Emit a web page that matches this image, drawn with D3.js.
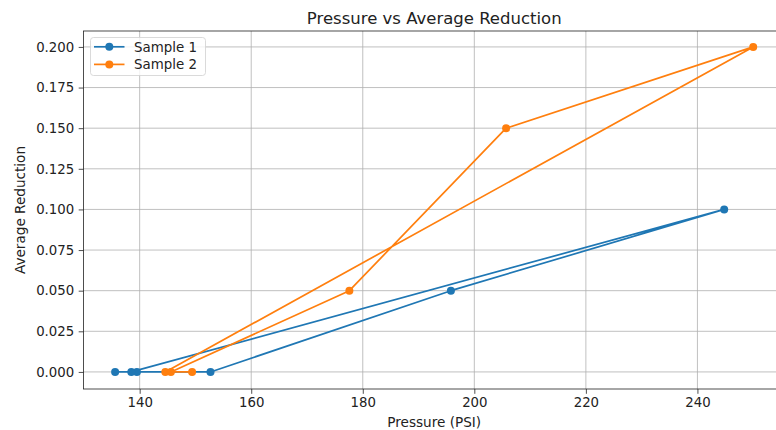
<!DOCTYPE html>
<html><head><meta charset="utf-8">
<script src="https://cdn.jsdelivr.net/npm/d3@7"></script>
<style>body{margin:0;background:#fff;} svg{display:block;font-family:"DejaVu Sans",sans-serif;}</style>
</head><body><svg id="c" width="776" height="430"></svg>
<script>
const sample1X = [135.6, 139.5, 152.7, 195.8, 244.8, 138.5];
const sample1Y = [0.0, 0.0, 0.0, 0.05, 0.10, 0.0];
const sample2X = [149.4, 144.6, 250.0, 205.7, 177.6, 145.6];
const sample2Y = [0.0, 0.0, 0.20, 0.15, 0.05, 0.0];
const seriesNames = ["Sample 1", "Sample 2"];
const colors = ["#1f77b4", "#ff7f0e"];
const xTicks = [140, 160, 180, 200, 220, 240];
const yTicks = [0, 0.025, 0.05, 0.075, 0.1, 0.125, 0.15, 0.175, 0.2];

const svg = d3.select("#c");
const L = 83.5, T = 31, B = 389, R = 785;
const x = d3.scaleLinear().domain([129.93, 255.7]).range([L, R]);
const y = d3.scaleLinear().domain([-0.0105, 0.2098]).range([B, T]);

// grid
const g = svg.append("g");
g.selectAll(".gx").data(xTicks).join("line")
  .attr("x1", d => x(d)).attr("x2", d => x(d)).attr("y1", T).attr("y2", B)
  .attr("stroke", "#b0b0b0").attr("stroke-width", 0.8);
g.selectAll(".gy").data(yTicks).join("line")
  .attr("x1", L).attr("x2", R).attr("y1", d => y(d)).attr("y2", d => y(d))
  .attr("stroke", "#b0b0b0").attr("stroke-width", 0.8);

const series = [
  sample1X.map((v, i) => [v, sample1Y[i]]),
  sample2X.map((v, i) => [v, sample2Y[i]])
];
const line = d3.line().x(d => x(d[0])).y(d => y(d[1]));
series.forEach((s, k) => {
  svg.append("path").attr("d", line(s)).attr("fill", "none")
    .attr("stroke", colors[k]).attr("stroke-width", 1.7).attr("stroke-linejoin", "round");
  svg.selectAll(".m" + k).data(s).join("circle")
    .attr("cx", d => x(d[0])).attr("cy", d => y(d[1])).attr("r", 4)
    .attr("fill", colors[k]);
});

// axes
const xa = svg.append("g").attr("transform", `translate(0,${B})`)
  .call(d3.axisBottom(x).tickValues(xTicks).tickSize(4.8).tickPadding(4).tickFormat(d3.format("d")));
const ya = svg.append("g").attr("transform", `translate(${L},0)`)
  .call(d3.axisLeft(y).tickValues(yTicks).tickSize(4.8).tickPadding(4.5).tickFormat(d3.format(".3f")));
[xa, ya].forEach(a => {
  a.select(".domain").remove();
  a.selectAll("text").attr("font-size", 13.3).attr("fill", "#222").attr("font-family", "DejaVu Sans");
  a.selectAll("line").attr("stroke", "#222").attr("stroke-width", 0.8);
});
// spines
svg.append("rect").attr("x", L).attr("y", T).attr("width", R - L).attr("height", B - T)
  .attr("fill", "none").attr("stroke", "#222").attr("stroke-width", 0.8);

// titles
svg.append("text").attr("x", (L + R) / 2).attr("y", 24).attr("text-anchor", "middle")
  .attr("font-size", 16.5).attr("fill", "#222").text("Pressure vs Average Reduction");
svg.append("text").attr("x", (L + R) / 2).attr("y", 426.5).attr("text-anchor", "middle")
  .attr("font-size", 13.6).attr("fill", "#222").text("Pressure (PSI)");
svg.append("text").attr("transform", `translate(25,${(T + B) / 2}) rotate(-90)`).attr("text-anchor", "middle")
  .attr("font-size", 13.6).attr("fill", "#222").text("Average Reduction");

// legend
const lg = svg.append("g");
lg.append("rect").attr("x", 90.5).attr("y", 37.5).attr("width", 115).attr("height", 38).attr("rx", 3)
  .attr("fill", "#fff").attr("fill-opacity", 0.8).attr("stroke", "#d0d0d0").attr("stroke-width", 0.8);
seriesNames.forEach((n, k) => {
  const yy = 46.8 + k * 17.6;
  lg.append("line").attr("x1", 94).attr("x2", 124.5).attr("y1", yy).attr("y2", yy)
    .attr("stroke", colors[k]).attr("stroke-width", 1.7);
  lg.append("circle").attr("cx", 109.3).attr("cy", yy).attr("r", 4).attr("fill", colors[k]);
  lg.append("text").attr("x", 134).attr("y", yy + 4.8).attr("font-size", 13.4).attr("fill", "#222").text(n);
});
</script></body></html>
